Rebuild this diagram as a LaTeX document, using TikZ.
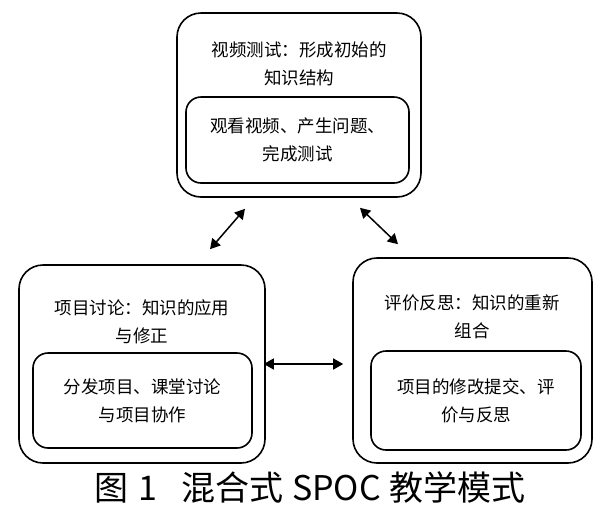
\documentclass[tikz,border=0pt]{standalone}
\usepackage{fontspec}
\setmainfont{Noto Sans CJK SC}
\usetikzlibrary{arrows.meta}
\usetikzlibrary{shapes}

\begin{document}
\begin{tikzpicture}[x = 1pt, y = -1pt]
\tikzstyle{outerStyle} = [draw, line width = 1.6pt, rounded corners = 24pt]
\tikzstyle{innerStyle} = [draw, line width = 1.6pt, rounded corners = 15pt, align = center, font = \fontsize{17.5}{28}\selectfont]
\tikzstyle{titleStyle} = [align = center, font = \fontsize{17.5}{28}\selectfont]
\tikzstyle{arrowStyle} = [line width = 1.5pt, {Triangle[length = 10pt, width = 11pt]}-{Triangle[length = 10pt, width = 11pt]}]
\useasboundingbox (0, 0) rectangle (600, 523);
% top block
\node[outerStyle, minimum width = 244pt, minimum height = 184pt] (video) at (299, 105) {};
\node[titleStyle] (videoTitle) at (299, 64) {视频测试：形成初始的\\知识结构};
\node[innerStyle, minimum width = 223pt, minimum height = 86pt] (videoIn) at (297.5, 140) {观看视频、产生问题、\\完成测试};
% left block
\node[outerStyle, minimum width = 246pt, minimum height = 198pt] (project) at (142, 364) {};
\node[titleStyle] (projectTitle) at (142, 322) {项目讨论：知识的应用\\与修正};
\node[innerStyle, minimum width = 219pt, minimum height = 95pt] (projectIn) at (142.5, 400.5) {分发项目、课堂讨论\\与项目协作};
% right block
\node[outerStyle, minimum width = 239pt, minimum height = 205pt] (review) at (472.5, 360.5) {};
\node[titleStyle] (reviewTitle) at (472, 317) {评价反思：知识的重新\\组合};
\node[innerStyle, minimum width = 210pt, minimum height = 99pt] (reviewIn) at (476, 400.5) {项目的修改提交、评\\价与反思};
% arrows
\draw[arrowStyle] ([shift = {(-54, 11)}]video.south) -- ([shift = {(68, -15)}]project.north);
\draw[arrowStyle] ([shift = {(61, 10)}]video.south) -- ([shift = {(-74.5, -13)}]review.north);
\draw[arrowStyle] ([xshift = -2pt]project.east) -- ([xshift = -9pt]project.east -| review.west);
% caption
\node[font = \fontsize{34}{40}\selectfont] (caption) at (310, 487) {图\hspace{10pt}1\hspace{24pt}混合式\hspace{9pt}SPOC\hspace{9pt}教学模式};
\end{tikzpicture}
\end{document}
